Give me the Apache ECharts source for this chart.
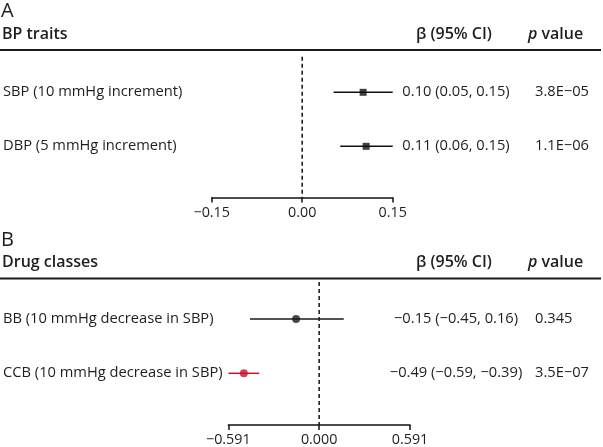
<!DOCTYPE html>
<html><head><meta charset="utf-8">
<script src="https://cdn.jsdelivr.net/npm/echarts@6/dist/echarts.min.js"></script>
<style>html,body{margin:0;padding:0;background:#fff}#c{width:603px;height:447px}</style>
</head><body><div id="c"></div>
<script>
// Panel A: BP traits
const catsA = ['SBP (10 mmHg increment)', 'DBP (5 mmHg increment)'];
const estA = [0.101, 0.106];
const loA = [0.052, 0.063];
const hiA = [0.150, 0.150];
const ciTextA = ['0.10 (0.05, 0.15)', '0.11 (0.06, 0.15)'];
const pTextA = ['3.8E\u221205', '1.1E\u221206'];
const ticksA = [-0.15, 0, 0.15];

// Panel B: Drug classes
const catsB = ['BB (10 mmHg decrease in SBP)', 'CCB (10 mmHg decrease in SBP)'];
const estB = [-0.15, -0.49];
const loB = [-0.45, -0.59];
const hiB = [0.16, -0.39];
const ciTextB = ['\u22120.15 (\u22120.45, 0.16)', '\u22120.49 (\u22120.59, \u22120.39)'];
const pTextB = ['0.345', '3.5E\u221207'];
const colorsB = ['#1a1a1a', '#c8102e'];
const ticksB = [-0.591, 0, 0.591];

const FONT = '"Open Sans", "Noto Sans", sans-serif';
const TXT = '#1e1e1e';
const FS = 14.7;

function fmtMinus(v, d) {
  const s = Math.abs(v).toFixed(d);
  return (v < -1e-9 ? '\u2212' : '') + s;
}
function rowFmt(list) {
  return function (v) {
    const i = Math.round(v);
    if (Math.abs(v - i) < 1e-6 && i >= 1 && i <= list.length) return list[i - 1];
    return '';
  };
}
const YMAX = 2.95;
function yAxes(grid, cats, ci, p, ciMargin, pMargin) {
  const base = {
    gridIndex: grid, type: 'value', inverse: true, min: 0, max: YMAX, interval: 1,
    axisLine: {show: false}, axisTick: {show: false}, splitLine: {show: false}
  };
  const lab = {color: TXT, fontSize: FS, fontFamily: FONT, showMinLabel: false, showMaxLabel: false};
  return [
    Object.assign({}, base, {position: 'left', axisLabel: Object.assign({formatter: rowFmt(cats), align: 'left', margin: 0}, lab)}),
    Object.assign({}, base, {position: 'right', axisLabel: Object.assign({formatter: rowFmt(ci), align: 'center', margin: ciMargin}, lab)}),
    Object.assign({}, base, {position: 'right', axisLabel: Object.assign({formatter: rowFmt(p), align: 'left', margin: pMargin}, lab)})
  ];
}
function xAxis(grid, ticks, dec) {
  return {
    gridIndex: grid, type: 'value', position: 'bottom',
    min: ticks[0], max: ticks[ticks.length - 1], interval: ticks[ticks.length - 1],
    axisLine: {onZero: false, lineStyle: {color: '#111', width: 1.5}},
    axisTick: {show: true, length: 5, lineStyle: {color: '#111', width: 1.5}},
    splitLine: {show: false},
    axisLabel: {formatter: v => fmtMinus(v, dec), color: TXT, fontSize: 14.3, fontFamily: FONT, margin: 8, showMinLabel: true, showMaxLabel: true}
  };
}
function errSeries(xi, yi, lo, hi, colors) {
  return {
    type: 'custom', xAxisIndex: xi, yAxisIndex: yi,
    data: lo.map((l, i) => [l, hi[i], i + 1]),
    renderItem: function (params, api) {
      const a = api.coord([api.value(0), api.value(2)]);
      const b = api.coord([api.value(1), api.value(2)]);
      return {type: 'line', shape: {x1: a[0], y1: a[1], x2: b[0], y2: b[1]},
        style: {stroke: colors[params.dataIndex], lineWidth: 1.5}};
    },
    silent: true, z: 2
  };
}
function zeroLine(xi, yi, top) {
  return {
    type: 'line', xAxisIndex: xi, yAxisIndex: yi, data: [[0, top], [0, YMAX]],
    symbol: 'none', lineStyle: {color: '#111', width: 1.5, type: [4, 3]}, silent: true, z: 1
  };
}
const blackA = catsA.map(() => '#111');

const gridA = {left: 210.7, right: 210.3, top: 38.3, height: 54 * YMAX};
const gridB = {left: 227.3, right: 193, top: 264.5, height: 55 * YMAX};

const yA = yAxes(0, catsA, ciTextA, pTextA, 456 - 392.7, 535 - 392.7);
yA[0].axisLabel.margin = 210.7 - 2;
const yB = yAxes(1, catsB, ciTextB, pTextB, 456 - 410, 535 - 410);
yB[0].axisLabel.margin = 227.3 - 2;

function header(yLetter, letter, yTitle, title, yLine) {
  return [
    {type: 'text', left: 1, top: yLetter, style: {text: letter, font: '20px ' + FONT, fill: TXT}},
    {type: 'text', left: 2, top: yTitle, style: {text: title, font: '600 16px ' + FONT, fill: TXT}},
    {type: 'text', left: 416, top: yTitle, style: {text: '\u03b2 (95% CI)', font: '600 16px ' + FONT, fill: TXT}},
    {type: 'text', left: 528, top: yTitle, style: {rich: {i: {fontStyle: 'italic', fontWeight: 600, fontSize: 16, fontFamily: FONT, fill: TXT}, n: {fontWeight: 600, fontSize: 16, fontFamily: FONT, fill: TXT}}, text: '{i|p}{n| value}'}},
    {type: 'line', shape: {x1: 0, y1: yLine, x2: 601, y2: yLine}, style: {stroke: '#1a1a1a', lineWidth: 2}}
  ];
}

const chart = echarts.init(document.getElementById('c'), null, {renderer: 'canvas'});
chart.setOption({
  animation: false,
  backgroundColor: '#fff',
  grid: [gridA, gridB],
  xAxis: [xAxis(0, ticksA, 2), xAxis(1, ticksB, 3)],
  yAxis: yA.concat(yB),
  graphic: header(1, 'A', 26, 'BP traits', 50).concat(header(230, 'B', 254, 'Drug classes', 278.5)),
  series: [
    zeroLine(0, 0, 0.34),
    errSeries(0, 0, loA, hiA, blackA),
    {type: 'scatter', xAxisIndex: 0, yAxisIndex: 0, symbol: 'rect', symbolSize: 7,
     data: estA.map((v, i) => [v, i + 1]), itemStyle: {color: '#111'}, z: 3},
    zeroLine(1, 3, 0.32),
    errSeries(1, 3, loB, hiB, colorsB),
    {type: 'scatter', xAxisIndex: 1, yAxisIndex: 3, symbol: 'circle', symbolSize: 8,
     data: estB.map((v, i) => ({value: [v, i + 1], itemStyle: {color: colorsB[i]}})), z: 3}
  ]
});
</script></body></html>
